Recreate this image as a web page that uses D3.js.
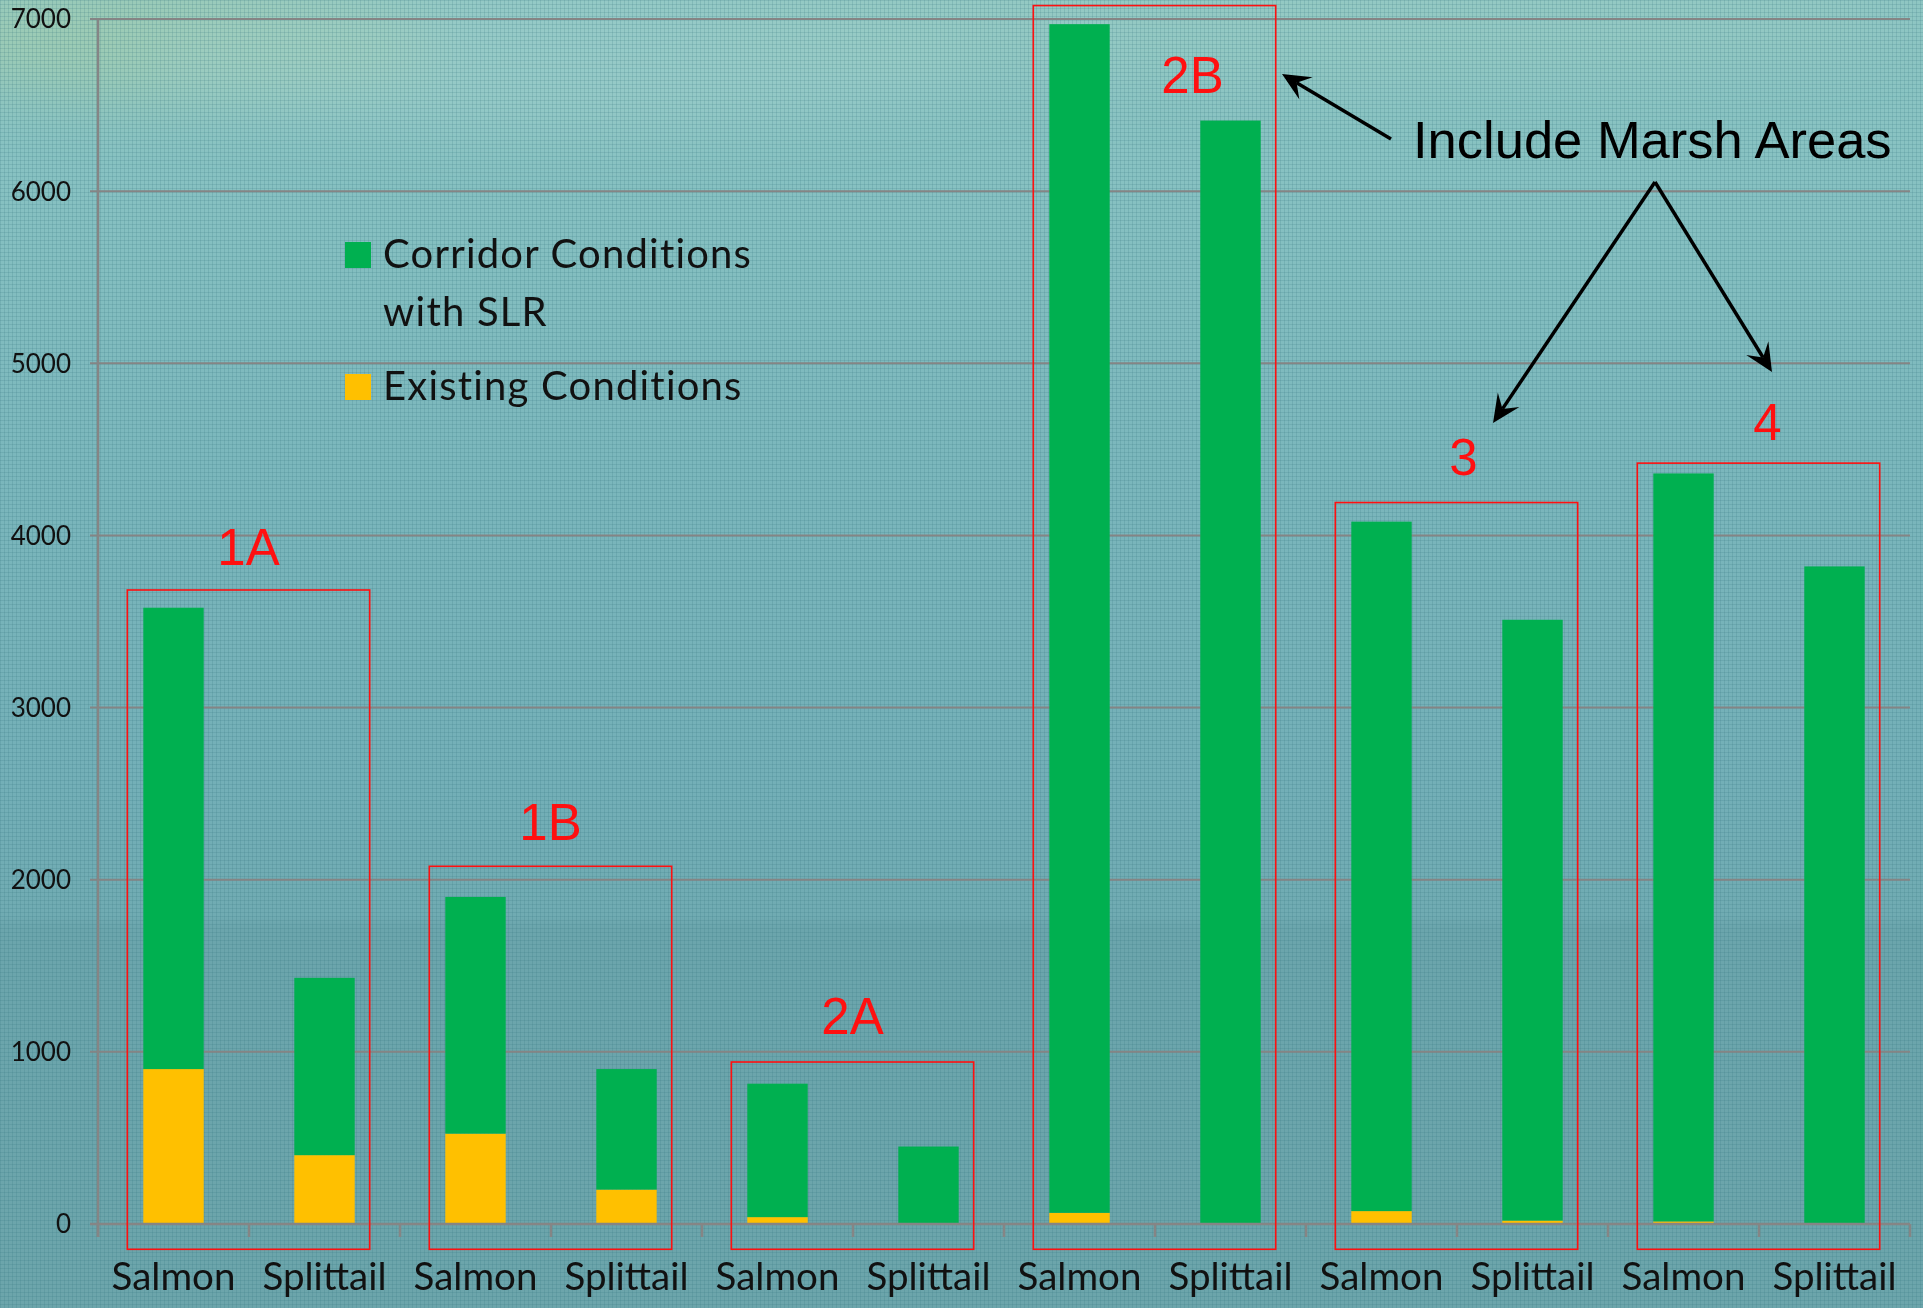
<!DOCTYPE html>
<html>
<head>
<meta charset="utf-8">
<script src="https://cdn.jsdelivr.net/npm/d3@7"></script>
<style>
  html, body { margin: 0; padding: 0; background: #7db8bc; }
  svg { display: block; }
</style>
</head>
<body>
<svg id="chart" width="1923" height="1308"></svg>
<script>
// ---------------- DATA ----------------
const groups = ["1A", "1B", "2A", "2B", "3", "4"];
const species = ["Salmon", "Splittail"];
const categories = ["Salmon", "Splittail", "Salmon", "Splittail", "Salmon", "Splittail",
                    "Salmon", "Splittail", "Salmon", "Splittail", "Salmon", "Splittail"];
const existingConditions = [900, 400, 525, 200, 40, 0, 65, 5, 75, 20, 15, 0];
const corridorWithSLR   = [2680, 1030, 1375, 700, 775, 450, 6905, 6405, 4005, 3490, 4345, 3820];
const yTickValues = [0, 1000, 2000, 3000, 4000, 5000, 6000, 7000];
const seriesNames = ["Existing Conditions", "Corridor Conditions with SLR"];
const legendLines = [["Corridor Conditions", "with SLR"], ["Existing Conditions"]];
const groupBoxTop = [3683, 2078, 941, 7078, 4191, 4420];
const groupBoxBottom = -147;
const groupLabelY = [3829, 2232, 1105, 6568, 4349, 4557];
const noteText = "Include Marsh Areas";

// ---------------- LAYOUT ----------------
const W = 1923, H = 1308;
const plot = { left: 98, right: 1910, top: 19, bottom: 1224 };
const colors = { existing: "#FFC000", corridor: "#00B050", grid: "#858585", red: "#FF1010" };
const uiFont = "Lato, 'Open Sans', sans-serif";

const svg = d3.select("#chart");
const defs = svg.append("defs");

// background
const bg = defs.append("linearGradient").attr("id", "bg").attr("x1", 0).attr("y1", 0).attr("x2", 0).attr("y2", 1);
[[0, "#8ec6c3"], [0.12, "#88c2c2"], [0.35, "#7bb7bc"], [0.6, "#73afb7"], [0.7, "#70abb2"], [0.71, "#6ba5ac"], [1, "#6ca5ab"]]
  .forEach(([o, c]) => bg.append("stop").attr("offset", o).attr("stop-color", c));
const blur = defs.append("filter").attr("id", "blur").attr("x", "-50%").attr("y", "-50%").attr("width", "200%").attr("height", "200%");
blur.append("feGaussianBlur").attr("stdDeviation", 30);
const pat = defs.append("pattern").attr("id", "dots").attr("width", 4).attr("height", 4).attr("patternUnits", "userSpaceOnUse");
pat.append("rect").attr("x", 0).attr("y", 0).attr("width", 4).attr("height", 1).attr("fill", "#2f6f7a").attr("opacity", 0.17);
pat.append("rect").attr("x", 0).attr("y", 0).attr("width", 1).attr("height", 4).attr("fill", "#2f6f7a").attr("opacity", 0.17);

svg.append("rect").attr("width", W).attr("height", H).attr("fill", "url(#bg)");
const deco = svg.append("g").attr("filter", "url(#blur)");
deco.append("ellipse").attr("cx", 180).attr("cy", 40).attr("rx", 260).attr("ry", 60).attr("fill", "#a9cfa8").attr("opacity", 0.55);
deco.append("ellipse").attr("cx", 560).attr("cy", 60).attr("rx", 420).attr("ry", 70).attr("fill", "#9fd0cc").attr("opacity", 0.5);
deco.append("ellipse").attr("cx", 1300).attr("cy", 20).attr("rx", 600).attr("ry", 60).attr("fill", "#9ccdc4").attr("opacity", 0.5);
svg.append("rect").attr("width", W).attr("height", H).attr("fill", "url(#dots)");

// scales
const idx = d3.range(categories.length);
const x = d3.scaleBand().domain(idx).range([plot.left, plot.right]).paddingInner(0.6).paddingOuter(0.3);
const xCat = d3.scaleBand().domain(idx).range([plot.left, plot.right]).padding(0);
const y = d3.scaleLinear().domain([0, 7000]).range([plot.bottom, plot.top]);

// gridlines
svg.append("g").selectAll("line").data(yTickValues.filter(v => v > 0)).join("line")
  .attr("x1", plot.left - 8).attr("x2", plot.right)
  .attr("y1", d => y(d)).attr("y2", d => y(d))
  .attr("stroke", colors.grid).attr("stroke-width", 2);

// y tick labels
svg.append("g").selectAll("text").data(yTickValues).join("text")
  .attr("x", 71).attr("y", d => y(d)).attr("dy", "0.36em")
  .attr("text-anchor", "end")
  .attr("font-family", uiFont).attr("font-size", 26).attr("fill", "#111")
  .text(d => d);

// stacked bars
const rows = idx.map(i => ({ i, existing: existingConditions[i], corridor: corridorWithSLR[i] }));
const stack = d3.stack().keys(["existing", "corridor"]);
const stacked = stack(rows);
const fillFor = { existing: colors.existing, corridor: colors.corridor };
svg.append("g").selectAll("g").data(stacked).join("g")
  .attr("fill", d => fillFor[d.key])
  .selectAll("rect").data(d => d).join("rect")
  .attr("x", d => x(d.data.i))
  .attr("width", x.bandwidth())
  .attr("y", d => y(d[1]))
  .attr("height", d => Math.max(0, y(d[0]) - y(d[1])));

// axes
const axisG = svg.append("g").attr("stroke", colors.grid).attr("stroke-width", 2.5);
axisG.append("line").attr("x1", plot.left).attr("x2", plot.left).attr("y1", plot.top).attr("y2", plot.bottom + 13);
axisG.append("line").attr("x1", plot.left - 8).attr("x2", plot.right).attr("y1", plot.bottom).attr("y2", plot.bottom);
axisG.selectAll("line.tick").data(idx.concat([categories.length])).join("line").attr("class", "tick")
  .attr("x1", d => d < categories.length ? xCat(d) : plot.right)
  .attr("x2", d => d < categories.length ? xCat(d) : plot.right)
  .attr("y1", plot.bottom).attr("y2", plot.bottom + 13);

// x labels
svg.append("g").selectAll("text").data(idx).join("text")
  .attr("x", i => xCat(i) + xCat.bandwidth() / 2)
  .attr("y", 1290)
  .attr("text-anchor", "middle")
  .attr("font-family", uiFont).attr("font-size", 38.5).attr("fill", "#111")
  .text(i => categories[i]);

// group boxes + labels
const labelDx = [0, 0, 0, 38, 7, 9];
const boxG = svg.append("g");
groups.forEach((g, gi) => {
  const s = gi * 2, t = gi * 2 + 1;
  const x0 = x(s) - 16, x1 = x(t) + x.bandwidth() + 15;
  boxG.append("rect").attr("x", x0).attr("y", y(groupBoxTop[gi]))
    .attr("width", x1 - x0).attr("height", y(groupBoxBottom) - y(groupBoxTop[gi]))
    .attr("fill", "none").attr("stroke", colors.red).attr("stroke-width", 1.6);
  boxG.append("text").attr("x", (x0 + x1) / 2 + labelDx[gi]).attr("y", y(groupLabelY[gi]))
    .attr("text-anchor", "middle")
    .attr("font-family", "'Liberation Sans', Arial, sans-serif").attr("font-size", 51)
    .attr("fill", colors.red).text(g);
});

// legend
const leg = svg.append("g").attr("font-family", uiFont).attr("font-size", 40)
  .attr("letter-spacing", 1.2).attr("fill", "#111");
leg.append("rect").attr("x", 345).attr("y", 242).attr("width", 26).attr("height", 26).attr("fill", colors.corridor);
leg.append("text").attr("x", 383).attr("y", 268).text(legendLines[0][0]);
leg.append("text").attr("x", 383).attr("y", 326).text(legendLines[0][1]);
leg.append("rect").attr("x", 345).attr("y", 374).attr("width", 26).attr("height", 26).attr("fill", colors.existing);
leg.append("text").attr("x", 383).attr("y", 400).text(legendLines[1][0]);

// note + arrows
svg.append("text").attr("x", 1413).attr("y", 158)
  .attr("font-family", "'Liberation Sans', Arial, sans-serif").attr("font-size", 52.5).attr("fill", "#000")
  .text(noteText);

const arrows = [
  [[1391, 139], [1282, 74]],
  [[1655, 182], [1493, 423]],
  [[1655, 182], [1772, 372]]
];
const arrG = svg.append("g");
arrows.forEach(([a, b]) => {
  const dx = b[0] - a[0], dy = b[1] - a[1];
  const L = Math.hypot(dx, dy), ux = dx / L, uy = dy / L, nx = -uy, ny = ux;
  const hl = 28, hw = 13, notch = 17;
  const nb = [b[0] - ux * notch, b[1] - uy * notch];
  arrG.append("line").attr("x1", a[0]).attr("y1", a[1]).attr("x2", nb[0]).attr("y2", nb[1])
    .attr("stroke", "#000").attr("stroke-width", 3.5);
  const pts = [
    b,
    [b[0] - ux * hl + nx * hw, b[1] - uy * hl + ny * hw],
    nb,
    [b[0] - ux * hl - nx * hw, b[1] - uy * hl - ny * hw]
  ];
  arrG.append("path").attr("d", d3.line()(pts) + "Z").attr("fill", "#000");
});
</script>
</body>
</html>
